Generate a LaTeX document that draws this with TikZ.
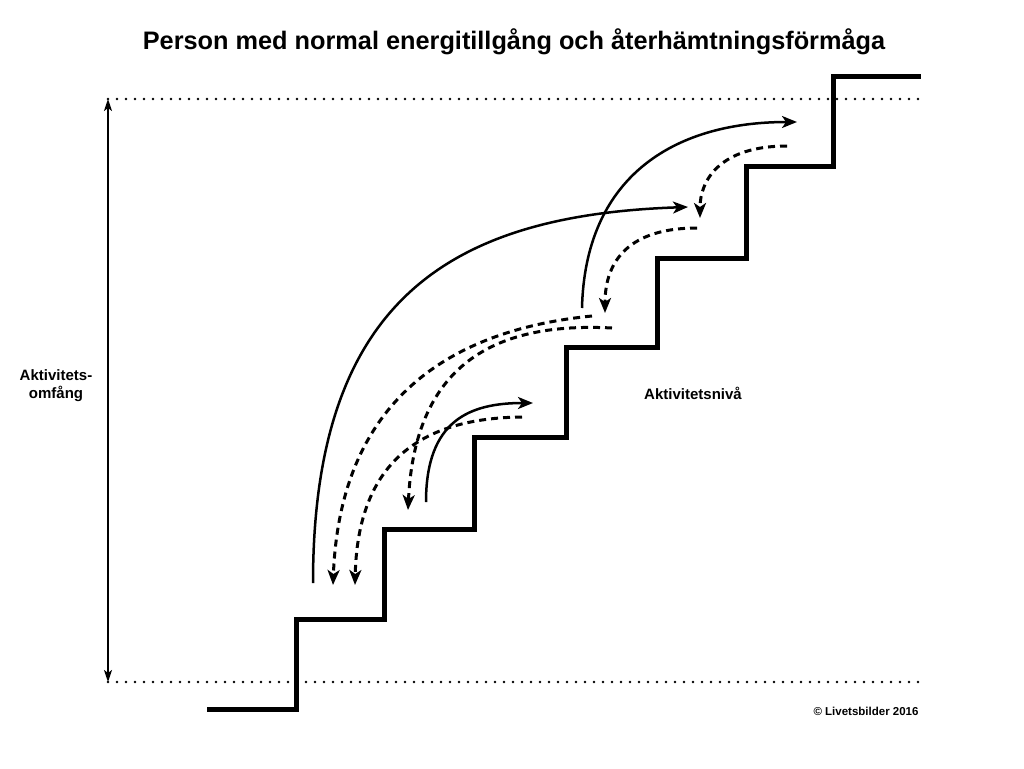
\documentclass[tikz,border=0pt]{standalone}
\usepackage{fontspec}
\setmainfont{Liberation Sans}
\usetikzlibrary{arrows.meta}
\begin{document}
\begin{tikzpicture}[x=1pt,y=-1pt,
  stair/.style={line width=5pt,line join=miter},
  solidarr/.style={line width=2.5pt,-{Stealth[length=15pt,width=12pt,inset=4pt]}},
  dasharr/.style={line width=3pt,dash pattern=on 7pt off 5pt,-{Stealth[length=15pt,width=12pt,inset=4pt]}},
  dotline/.style={line width=2.6pt,dash pattern=on 0pt off 9pt,line cap=round},
  rangearr/.style={line width=2pt,{Stealth[length=12pt,width=8pt,inset=3pt]}-{Stealth[length=12pt,width=8pt,inset=3pt]}},
  lbl/.style={font=\bfseries\fontsize{15}{18}\selectfont,inner sep=0pt,align=center}]
\useasboundingbox (0,0) rectangle (1024,768);
\fill[white] (0,0) rectangle (1024,768);
% title
\node[inner sep=0pt,font=\bfseries\fontsize{25.3}{29}\selectfont] (title) at (514,42) {Person med normal energitillgång och återhämtningsförmåga};
% dotted limits
\coordinate (dt1) at (108,99); \coordinate (dt2) at (921,99);
\coordinate (db1) at (108,682); \coordinate (db2) at (921,682);
\draw[dotline] (dt1) -- (dt2);
\draw[dotline] (db1) -- (db2);
\draw[rangearr] (dt1) -- (db1);
% labels
\node[lbl] (omf) at (56,386) {Aktivitets-\\omfång};
\node[lbl] (niva) at (693,393) {Aktivitetsnivå};
\node[inner sep=0pt,font=\bfseries\fontsize{11.5}{14}\selectfont] (copy) at (866,711) {© Livetsbilder 2016};
% staircase
\draw[stair] (207,709) -- (296,709) -- (296,619) -- (384,619) -- (384,529) -- (474,529) -- (474,437) -- (566,437) -- (566,347) -- (657,347) -- (657,258) -- (746,258) -- (746,166) -- (833,166) -- (833,76) -- (921,76);
% solid arrows
\coordinate (s1a) at (313,583); \coordinate (s1b) at (688,207);
\coordinate (s2a) at (582,308); \coordinate (s2b) at (797,122);
\coordinate (s3a) at (426,502); \coordinate (s3b) at (533,403);
\draw[solidarr] (s1a) .. controls (313,300) and (450,215) .. (s1b);
\draw[solidarr] (s2a) .. controls (585,180) and (670,122) .. (s2b);
\draw[solidarr] (s3a) .. controls (426,420) and (470,403) .. (s3b);
% dashed arrows
\coordinate (d1a) at (612,328); \coordinate (d1b) at (408,510);
\coordinate (d2a) at (592,316); \coordinate (d2b) at (333,585);
\coordinate (d3a) at (522,417); \coordinate (d3b) at (355,585);
\coordinate (d4a) at (787,146); \coordinate (d4b) at (700,218);
\coordinate (d5a) at (697,228); \coordinate (d5b) at (605,313);
\draw[dasharr] (d1a) .. controls (500,322) and (415,360) .. (d1b);
\draw[dasharr] (d2a) .. controls (450,330) and (340,400) .. (d2b);
\draw[dasharr] (d3a) .. controls (435,418) and (358,450) .. (d3b);
\draw[dasharr] (d4a) .. controls (720,146) and (700,180) .. (d4b);
\draw[dasharr] (d5a) .. controls (630,228) and (605,260) .. (d5b);
\end{tikzpicture}
\end{document}
